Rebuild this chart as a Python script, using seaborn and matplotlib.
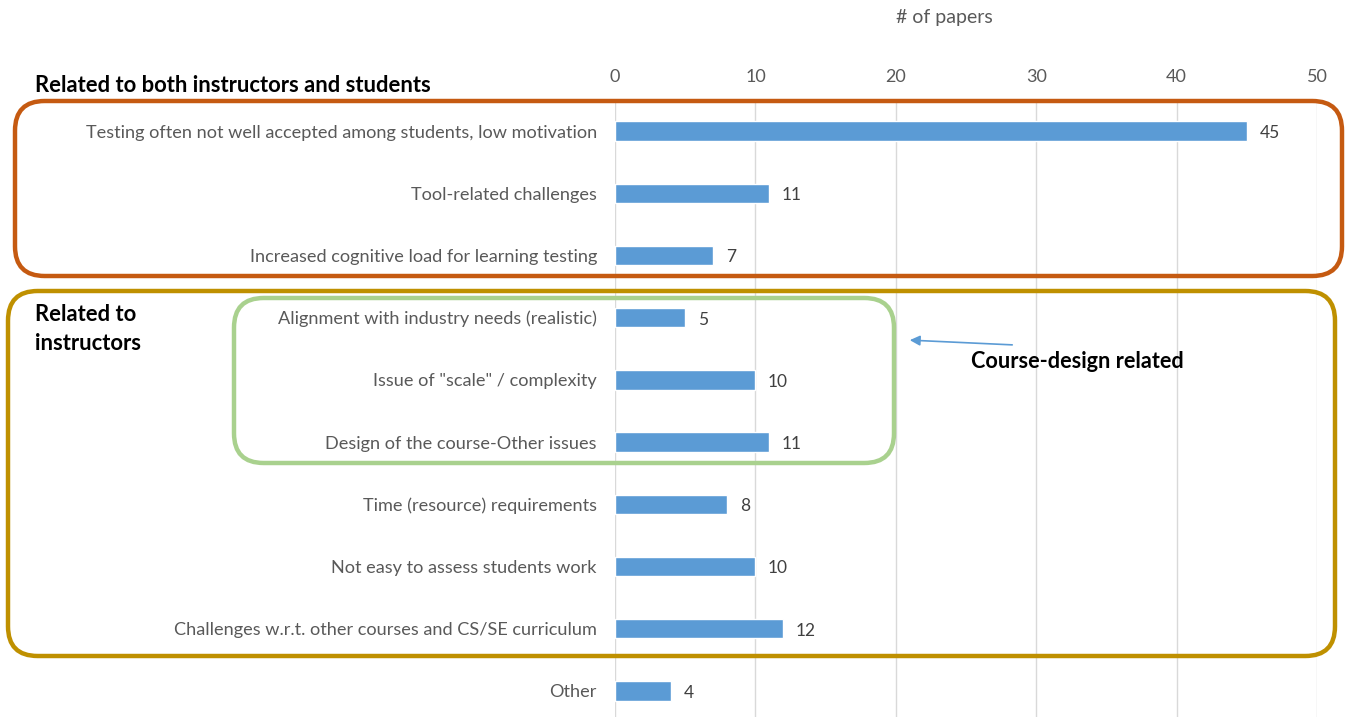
import matplotlib
matplotlib.use("Agg")
import matplotlib.pyplot as plt
import seaborn as sns
from matplotlib.patches import FancyBboxPatch

challenges = [
    "Testing often not well accepted among students, low motivation",
    "Tool-related challenges",
    "Increased cognitive load for learning testing",
    "Alignment with industry needs (realistic)",
    'Issue of "scale" / complexity',
    "Design of the course-Other issues",
    "Time (resource) requirements",
    "Not easy to assess students work",
    "Challenges w.r.t. other courses and CS/SE curriculum",
    "Other",
]
papers = [45, 11, 7, 5, 10, 11, 8, 10, 12, 4]
x_ticks = [0, 10, 20, 30, 40, 50]

BAR = "#5B9BD5"
GREY = "#595959"

sns.set_theme(style="white")
plt.rcParams["font.family"] = ["Lato", "DejaVu Sans"]

W, H = 1349, 717
fig = plt.figure(figsize=(W / 100, H / 100), dpi=100)
ax = fig.add_axes([615 / W, 0, (1317 - 615) / W, 1 - 100 / H])

sns.barplot(x=papers, y=challenges, color=BAR, width=0.31, ax=ax, orient="h",
            saturation=1)

ax.set_xlim(0, 50)
ax.set_ylim(9.42, -0.5)
ax.set_xticks(x_ticks)
ax.xaxis.tick_top()
ax.xaxis.set_label_position("top")
ax.tick_params(axis="x", length=0, pad=11, labelsize=13, labelcolor=GREY)
ax.tick_params(axis="y", length=0, pad=13, labelsize=13.1, labelcolor=GREY)
ax.grid(axis="x", color="#D9D9D9", linewidth=1)
ax.set_axisbelow(True)
for s in ax.spines.values():
    s.set_visible(False)
ax.set_xlabel("")
ax.set_ylabel("")

for i, v in enumerate(papers):
    ax.text(v + 0.9, i + 0.03, str(v), va="center", ha="left", fontsize=12.5,
            color="#404040")

fig.text(944 / W, 1 - 18 / H, "# of papers", ha="center", va="center",
         fontsize=14, color=GREY)


def box(x0, y0, x1, y1, color):
    p = FancyBboxPatch((x0 / W, 1 - y1 / H), (x1 - x0) / W, (y1 - y0) / H,
                       boxstyle="round,pad=0,rounding_size=0.022",
                       transform=fig.transFigure, fill=False,
                       edgecolor=color, linewidth=3.2, mutation_aspect=W / H)
    fig.add_artist(p)


box(15, 101, 1342, 276, "#C55A11")
box(8, 291, 1335, 656, "#BF9000")
box(234, 298, 894, 463, "#A9D18E")

fig.text(35 / W, 1 - 85 / H, "Related to both instructors and students",
         fontsize=15.8, fontweight="bold", color="black", va="center")
fig.text(35 / W, 1 - 329 / H, "Related to\ninstructors", fontsize=15.8,
         fontweight="bold", color="black", va="center", linespacing=1.45)
fig.text(1077 / W, 1 - 361 / H, "Course-design related", fontsize=15.6,
         fontweight="bold", color="black", va="center", ha="center")

fig.add_artist(matplotlib.patches.FancyArrowPatch(
    (1015 / W, 1 - 345 / H), (907 / W, 1 - 340 / H), transform=fig.transFigure,
    arrowstyle="-|>,head_length=6,head_width=3", color=BAR, linewidth=1.2))

fig.savefig("out.png", dpi=100)
